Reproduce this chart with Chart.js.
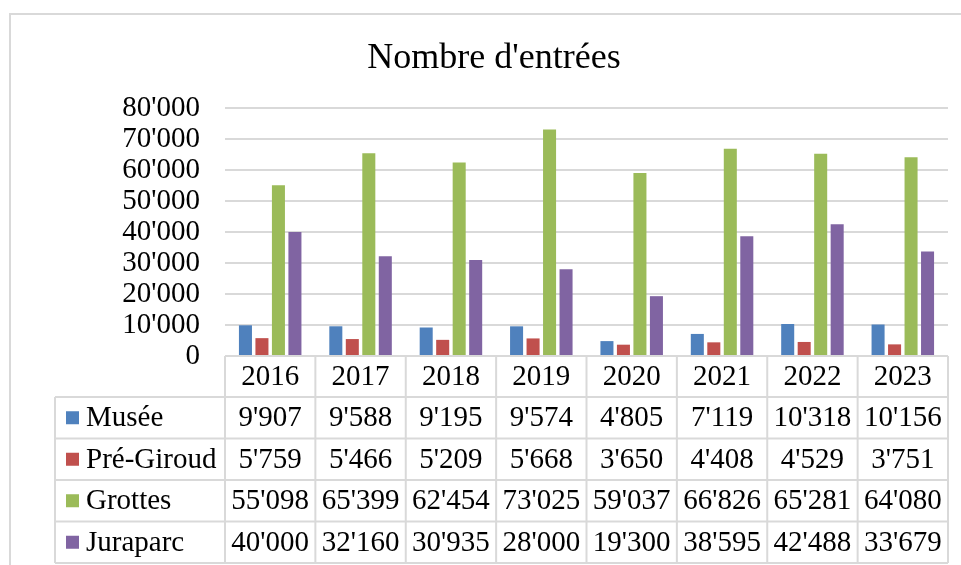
<!DOCTYPE html>
<html>
<head>
<meta charset="utf-8">
<script src="https://cdn.jsdelivr.net/npm/chart.js@4.4.1/dist/chart.umd.min.js"></script>
<style>
  html, body { margin: 0; padding: 0; background: #fff; }
  canvas { display: block; }
</style>
</head>
<body>
<canvas id="grafica" width="961" height="565"></canvas>
<script>
// Données du graphique
const titre = "Nombre d'entrées";
const annees = ["2016", "2017", "2018", "2019", "2020", "2021", "2022", "2023"];
const series = ["Musée", "Pré-Giroud", "Grottes", "Juraparc"];
const couleurs = ["#4F81BD", "#C0504D", "#9BBB59", "#8064A2"];
const musee = [9907, 9588, 9195, 9574, 4805, 7119, 10318, 10156];
const preGiroud = [5759, 5466, 5209, 5668, 3650, 4408, 4529, 3751];
const grottes = [55098, 65399, 62454, 73025, 59037, 66826, 65281, 64080];
const juraparc = [40000, 32160, 30935, 28000, 19300, 38595, 42488, 33679];
const valeurs = [musee, preGiroud, grottes, juraparc];

const police = "'Liberation Serif', 'Times New Roman', serif";
const gris = "#D9D9D9";

// séparateur de milliers à la suisse
function formater(n) {
  return String(n).replace(/\B(?=(\d{3})+(?!\d))/g, "'");
}

// cadre extérieur + titre
const cadre = {
  id: "cadre",
  beforeDraw(chart) {
    const c = chart.ctx;
    c.save();
    c.fillStyle = "#fff";
    c.fillRect(0, 0, chart.width, chart.height);
    c.strokeStyle = gris;
    c.lineWidth = 2;
    c.beginPath();
    c.moveTo(10, chart.height);
    c.lineTo(10, 14);
    c.lineTo(chart.width, 14);
    c.stroke();
    c.fillStyle = "#000";
    c.font = "36px " + police;
    c.textAlign = "center";
    c.textBaseline = "alphabetic";
    c.fillText(titre, 494, 68);
    c.restore();
  }
};

// table de données sous le graphique
const tableDonnees = {
  id: "tableDonnees",
  afterDraw(chart) {
    const c = chart.ctx;
    const x = chart.scales.x;
    const y0 = chart.scales.y.bottom;
    const largeur = (x.right - x.left) / annees.length;
    const hEntete = 41;
    const hLigne = 41.5;
    const gauche = 55;
    const bas = y0 + hEntete + hLigne * series.length;

    c.save();
    c.strokeStyle = gris;
    c.lineWidth = 2;
    c.beginPath();
    // lignes horizontales
    c.moveTo(x.left, y0); c.lineTo(x.right, y0);
    for (let r = 0; r <= series.length; r++) {
      const yy = y0 + hEntete + r * hLigne;
      c.moveTo(gauche, yy); c.lineTo(x.right, yy);
    }
    // lignes verticales
    c.moveTo(gauche, y0 + hEntete); c.lineTo(gauche, bas);
    for (let i = 0; i <= annees.length; i++) {
      const xx = x.left + i * largeur;
      c.moveTo(xx, y0); c.lineTo(xx, bas);
    }
    c.stroke();

    c.fillStyle = "#000";
    c.font = "29px " + police;
    c.textBaseline = "middle";
    c.textAlign = "center";
    annees.forEach((a, i) => {
      c.fillText(a, x.getPixelForValue(i), y0 + hEntete / 2 + 1);
    });
    series.forEach((s, r) => {
      const yc = y0 + hEntete + r * hLigne + hLigne / 2;
      c.fillStyle = couleurs[r];
      c.fillRect(66, yc - 6.5, 13, 13);
      c.fillStyle = "#000";
      c.textAlign = "left";
      c.fillText(s, 86, yc + 1);
      c.textAlign = "center";
      valeurs[r].forEach((v, i) => {
        c.fillText(formater(v), x.getPixelForValue(i), yc + 1);
      });
    });
    c.restore();
  }
};

const ctx = document.getElementById("grafica").getContext("2d");
new Chart(ctx, {
  type: "bar",
  data: {
    labels: annees,
    datasets: series.map((s, k) => ({
      label: s,
      data: valeurs[k],
      backgroundColor: couleurs[k],
      borderWidth: 0,
      categoryPercentage: 0.73,
      barPercentage: 0.79,
    })),
  },
  options: {
    responsive: false,
    animation: false,
    layout: { padding: { left: 0, right: 13, top: 108, bottom: 209 } },
    plugins: {
      legend: { display: false },
      tooltip: { enabled: false },
      title: { display: false },
    },
    scales: {
      x: { display: false },
      y: {
        min: 0,
        max: 80000,
        afterFit(scale) { scale.width = 225; },
        border: { display: false },
        grid: { color: gris, lineWidth: 2, drawTicks: false },
        ticks: {
          stepSize: 10000,
          autoSkip: false,
          padding: 25,
          color: "#000",
          font: { family: police, size: 29 },
          callback: v => formater(v),
        },
      },
    },
  },
  plugins: [cadre, tableDonnees],
});
</script>
</body>
</html>
